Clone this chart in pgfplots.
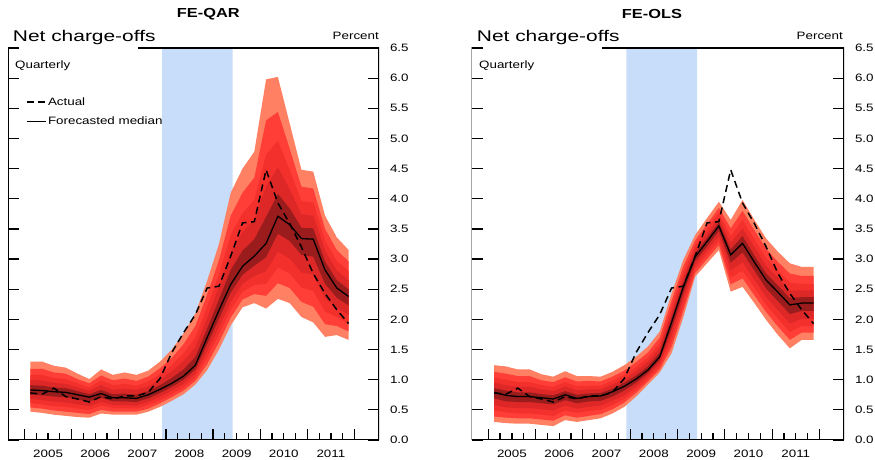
\documentclass[border=0pt]{standalone}
\usepackage{fontspec}
\setmainfont{Liberation Sans}[FakeStretch=1.25]
\usepackage{pgfplots}
\pgfplotsset{compat=1.18}
\usepackage{pgfplotstable}
\usepgfplotslibrary{fillbetween}

\definecolor{recess}{RGB}{199,221,249}
\definecolor{cA}{RGB}{255,128,98}
\definecolor{cB}{RGB}{255,62,56}
\definecolor{cC}{RGB}{244,48,45}
\definecolor{cD}{RGB}{222,40,40}
\definecolor{cE}{RGB}{155,28,28}

\newcommand\smallfont{\fontsize{10.7}{12}\selectfont}

% t = year - 2000 (quarter midpoints)
\pgfplotstableread{
t M T B u1 u2 u3 u4 l4 l3 l2 l1 A
5.125 0.83 1.30 0.47 1.18 1.08 1.00 0.91 0.75 0.68 0.61 0.54 0.78
5.375 0.82 1.30 0.45 1.18 1.08 0.99 0.90 0.74 0.66 0.59 0.52 0.76
5.625 0.80 1.23 0.42 1.12 1.03 0.95 0.87 0.72 0.64 0.56 0.49 0.86
5.875 0.79 1.20 0.40 1.10 1.01 0.93 0.86 0.71 0.62 0.55 0.47 0.72
6.125 0.75 1.10 0.38 1.01 0.94 0.87 0.81 0.67 0.59 0.52 0.45 0.68
6.375 0.71 1.01 0.37 0.94 0.87 0.82 0.76 0.64 0.56 0.50 0.43 0.63
6.625 0.77 1.17 0.44 1.07 0.99 0.91 0.83 0.70 0.63 0.57 0.50 0.72
6.875 0.70 1.08 0.42 0.99 0.91 0.83 0.76 0.64 0.58 0.53 0.47 0.68
7.125 0.70 1.12 0.42 1.02 0.93 0.85 0.77 0.64 0.58 0.53 0.47 0.73
7.375 0.69 1.08 0.42 0.98 0.90 0.83 0.75 0.63 0.57 0.52 0.47 0.73
7.625 0.75 1.15 0.47 1.05 0.97 0.89 0.81 0.69 0.63 0.58 0.52 0.79
7.875 0.84 1.30 0.55 1.19 1.09 1.00 0.91 0.78 0.72 0.66 0.61 1.02
8.125 0.94 1.50 0.65 1.36 1.24 1.14 1.03 0.88 0.82 0.76 0.71 1.45
8.375 1.06 1.77 0.76 1.59 1.44 1.31 1.17 1.00 0.93 0.87 0.82 1.78
8.625 1.24 2.10 0.92 1.89 1.70 1.54 1.38 1.17 1.10 1.04 0.98 2.08
8.875 1.70 2.64 1.16 2.41 2.21 2.03 1.85 1.59 1.47 1.37 1.26 2.52
9.125 2.15 3.25 1.50 2.98 2.74 2.54 2.33 2.01 1.87 1.75 1.62 2.55
9.375 2.58 4.10 1.90 3.72 3.40 3.11 2.82 2.44 2.29 2.16 2.03 3.05
9.625 2.88 4.50 2.20 4.10 3.76 3.45 3.14 2.74 2.59 2.46 2.33 3.60
9.875 3.05 4.78 2.27 4.35 3.98 3.66 3.33 2.89 2.72 2.57 2.42 3.62
10.125 3.26 5.98 2.18 5.30 4.73 4.21 3.70 3.03 2.80 2.59 2.39 4.48
10.375 3.71 6.02 2.34 5.44 4.96 4.52 4.08 3.42 3.12 2.86 2.60 3.93
10.625 3.57 5.25 2.27 4.83 4.48 4.16 3.84 3.30 3.01 2.76 2.52 3.59
10.875 3.34 4.48 2.04 4.20 3.96 3.74 3.52 3.07 2.78 2.53 2.29 3.20
11.125 3.33 4.45 1.95 4.17 3.94 3.72 3.51 3.04 2.74 2.47 2.21 2.76
11.375 2.82 3.72 1.71 3.50 3.31 3.14 2.96 2.59 2.34 2.13 1.92 2.43
11.625 2.52 3.36 1.74 3.15 2.97 2.81 2.65 2.36 2.19 2.04 1.89 2.16
11.875 2.38 3.15 1.66 2.96 2.80 2.65 2.50 2.23 2.07 1.93 1.80 1.93
}\qar

\pgfplotstableread{
t M T B u1 u2 u3 u4 l4 l3 l2 l1 A
5.125 0.79 1.24 0.30 1.13 1.03 0.95 0.86 0.69 0.58 0.49 0.39 0.78
5.375 0.74 1.22 0.28 1.10 1.00 0.91 0.82 0.64 0.54 0.46 0.37 0.76
5.625 0.72 1.17 0.27 1.06 0.96 0.88 0.79 0.63 0.53 0.44 0.36 0.86
5.875 0.72 1.17 0.27 1.06 0.96 0.88 0.79 0.63 0.53 0.44 0.36 0.72
6.125 0.70 1.09 0.25 0.99 0.91 0.84 0.76 0.61 0.51 0.42 0.34 0.68
6.375 0.68 1.05 0.23 0.96 0.88 0.81 0.74 0.59 0.49 0.40 0.32 0.63
6.625 0.75 1.14 0.33 1.04 0.96 0.89 0.81 0.66 0.57 0.49 0.41 0.72
6.875 0.69 1.06 0.30 0.97 0.89 0.82 0.75 0.61 0.52 0.45 0.37 0.68
7.125 0.72 1.06 0.33 0.98 0.90 0.84 0.77 0.64 0.55 0.48 0.40 0.73
7.375 0.73 1.05 0.36 0.97 0.90 0.84 0.78 0.65 0.57 0.50 0.43 0.73
7.625 0.80 1.13 0.44 1.05 0.98 0.92 0.85 0.72 0.65 0.58 0.51 0.79
7.875 0.89 1.24 0.55 1.15 1.08 1.01 0.95 0.82 0.74 0.68 0.62 1.02
8.125 1.01 1.38 0.72 1.29 1.21 1.14 1.07 0.95 0.89 0.83 0.78 1.45
8.375 1.16 1.55 0.92 1.45 1.37 1.30 1.22 1.11 1.06 1.01 0.97 1.78
8.625 1.38 1.80 1.12 1.70 1.61 1.53 1.45 1.33 1.27 1.22 1.17 2.08
8.875 1.95 2.43 1.44 2.31 2.21 2.12 2.03 1.84 1.73 1.63 1.54 2.52
9.125 2.54 2.99 2.04 2.88 2.78 2.70 2.61 2.44 2.33 2.23 2.14 2.55
9.375 3.04 3.40 2.71 3.31 3.23 3.17 3.10 2.97 2.90 2.84 2.77 3.05
9.625 3.29 3.68 2.93 3.58 3.50 3.43 3.35 3.21 3.14 3.07 3.00 3.60
9.875 3.55 3.95 3.15 3.85 3.77 3.69 3.61 3.47 3.38 3.30 3.23 3.62
10.125 3.07 3.65 2.46 3.51 3.38 3.27 3.16 2.94 2.81 2.69 2.58 4.48
10.375 3.26 3.98 2.54 3.80 3.65 3.51 3.38 3.11 2.95 2.81 2.68 3.93
10.625 2.95 3.65 2.27 3.48 3.33 3.20 3.06 2.81 2.66 2.53 2.40 3.59
10.875 2.65 3.34 1.99 3.17 3.02 2.89 2.76 2.51 2.37 2.24 2.12 3.20
11.125 2.45 3.12 1.74 2.95 2.81 2.69 2.56 2.30 2.15 2.01 1.88 2.76
11.375 2.24 2.93 1.52 2.76 2.61 2.48 2.35 2.09 1.93 1.79 1.66 2.43
11.625 2.27 2.87 1.66 2.72 2.59 2.48 2.37 2.14 2.01 1.89 1.78 2.16
11.875 2.27 2.87 1.66 2.72 2.59 2.48 2.37 2.14 2.01 1.89 1.78 1.93
}\ols

\pgfplotstableread{
t y
7.917 0
7.917 6.5
9.417 6.5
9.417 0
}\recession

\pgfplotsset{
  fanaxis/.style={
    set layers,
    scale only axis, height=392pt, anchor=south west,
    xmin=4.65, xmax=12.52, ymin=0, ymax=6.5,
    axis line style={draw=none},
    tick align=inside,
    xtick={5,6,7,8,9,10,11,12}, xticklabels={},
    minor x tick num=3,
    xtick pos=bottom,
    ytick={0,0.5,1,1.5,2,2.5,3,3.5,4,4.5,5,5.5,6,6.5},
    ytick pos=both,
    yticklabel pos=right,
    major tick length=11pt, minor tick length=7pt,
    every tick/.style={black, line width=1.2pt},
    extra x ticks={5.5,6.5,7.5,8.5,9.5,10.5,11.5},
    extra x tick labels={2005,2006,2007,2008,2009,2010,2011},
    extra x tick style={major tick length=0pt, tick label style={yshift=-6.5pt}},
    y tick label style={/pgf/number format/fixed, /pgf/number format/fixed zerofill, /pgf/number format/precision=1, font=\smallfont, xshift=7.5pt},
    x tick label style={font=\smallfont},
    /pgf/number format/assume math mode=true,
  },
}

\newcommand\fan[1]{%
  \addplot[fill=recess, draw=none, forget plot, on layer=axis background] table[x=t,y=y]{\recession} \closedcycle;
  \addplot[name path=T, draw=none, forget plot] table[x=t,y=T]{#1};
  \addplot[name path=B, draw=none, forget plot] table[x=t,y=B]{#1};
  \addplot[name path=ua, draw=none, forget plot] table[x=t,y=u1]{#1};
  \addplot[name path=ub, draw=none, forget plot] table[x=t,y=u2]{#1};
  \addplot[name path=uc, draw=none, forget plot] table[x=t,y=u3]{#1};
  \addplot[name path=ud, draw=none, forget plot] table[x=t,y=u4]{#1};
  \addplot[name path=la, draw=none, forget plot] table[x=t,y=l1]{#1};
  \addplot[name path=lb, draw=none, forget plot] table[x=t,y=l2]{#1};
  \addplot[name path=lc, draw=none, forget plot] table[x=t,y=l3]{#1};
  \addplot[name path=ld, draw=none, forget plot] table[x=t,y=l4]{#1};
  \addplot[fill=cA, draw=none, forget plot] fill between[of=T and B];
  \addplot[fill=cB, draw=none, forget plot] fill between[of=ua and la];
  \addplot[fill=cC, draw=none, forget plot] fill between[of=ub and lb];
  \addplot[fill=cD, draw=none, forget plot] fill between[of=uc and lc];
  \addplot[fill=cE, draw=none, forget plot] fill between[of=ud and ld];
  \addplot[black, line width=1.5pt, dash pattern=on 7pt off 4.5pt] table[x=t,y=A]{#1};
  \addplot[black, line width=1.3pt] table[x=t,y=M]{#1};
  \draw[line width=1.3pt] (rel axis cs:0,1) ++(22pt,0) -- (rel axis cs:0,1) -- (rel axis cs:0,0) -- (rel axis cs:1,0) -- (rel axis cs:1,1) -- ++(-22pt,0);
}

\begin{document}
\begin{tikzpicture}
\begin{axis}[fanaxis, width=371pt, at={(8pt,20pt)},
  legend style={at={(0.048,0.878)}, anchor=north west, draw=none, fill=none, inner sep=0pt, font=\smallfont, row sep=7pt, legend cell align=left, nodes={inner sep=1.5pt}},
  legend image code/.code={\draw[#1] (0pt,0pt) -- (19pt,0pt);}]
\fan{\qar}
\addlegendentry{Actual}
\addlegendentry{Forecasted median}
\end{axis}
\begin{axis}[fanaxis, width=372.3pt, at={(471.7pt,20pt)}]
\fan{\ols}
\end{axis}

\node[font=\bfseries\fontsize{13.1}{15}\selectfont] at (208.3pt,446pt) {FE-QAR};
\node[font=\bfseries\fontsize{13.1}{15}\selectfont] at (652pt,446pt) {FE-OLS};
\node[anchor=base west, inner sep=0pt, xscale=1.08, font=\fontsize{15.5}{17}\selectfont] at (12.7pt,418.3pt) {Net charge-offs};
\node[anchor=base west, inner sep=0pt, xscale=1.08, font=\fontsize{15.5}{17}\selectfont] at (476.7pt,418.3pt) {Net charge-offs};
\node[anchor=base east, inner sep=0pt, font=\smallfont] at (379pt,420pt) {Percent};
\node[anchor=base east, inner sep=0pt, font=\smallfont] at (843pt,420pt) {Percent};
\node[anchor=base west, inner sep=0pt, font=\smallfont] at (15pt,391.5pt) {Quarterly};
\node[anchor=base west, inner sep=0pt, font=\smallfont] at (479pt,391.5pt) {Quarterly};

\pgfresetboundingbox
\useasboundingbox (0pt,0pt) rectangle (875pt,460pt);
\end{tikzpicture}
\end{document}
